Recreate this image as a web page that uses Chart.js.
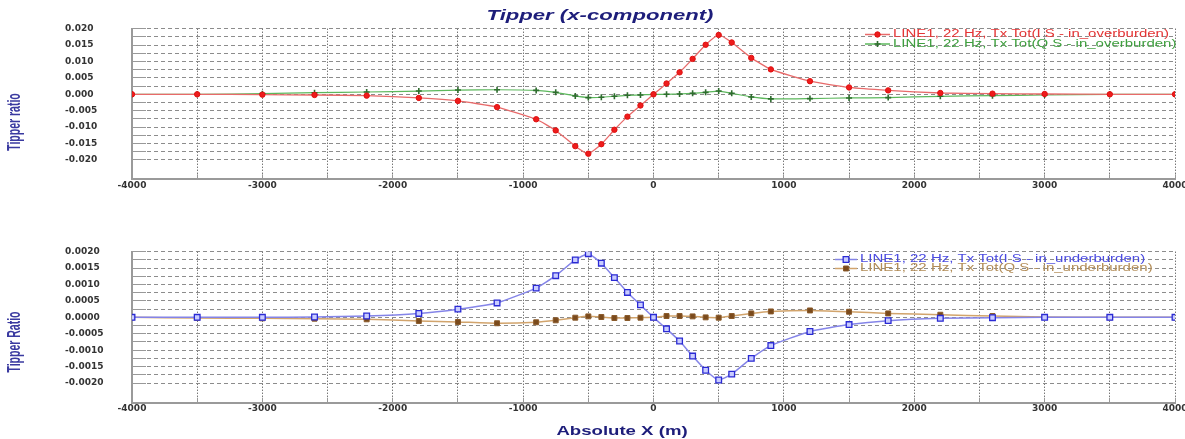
<!DOCTYPE html>
<html>
<head>
<meta charset="utf-8">
<script src="https://cdn.jsdelivr.net/npm/chart.js@4.4.1/dist/chart.umd.min.js"></script>
<style>
  html, body { margin: 0; padding: 0; background: #fff; }
  #wrap { position: relative; width: 1185px; height: 439px; }
  canvas { position: absolute; left: 0; }
</style>
</head>
<body>
<div id="wrap">
  <canvas id="topChart" width="1185" height="220" style="top:0"></canvas>
  <canvas id="bottomChart" width="1185" height="219" style="top:220px"></canvas>
</div>
<script>
// station positions (m)
const xPos = [-4000, -3500, -3000, -2600, -2200, -1800, -1500, -1200, -900, -750, -600, -500, -400, -300, -200, -100,
  0, 100, 200, 300, 400, 500, 600, 750, 900, 1200, 1500, 1800, 2200, 2600, 3000, 3500, 4000];

// overburden, in-phase / quadrature
const overIS = [0, 0, -0.0001, -0.0002, -0.0004, -0.0011, -0.0020, -0.0039, -0.0076, -0.0110, -0.0158, -0.0181, -0.0152, -0.0108, -0.0068, -0.0034,
  0, 0.0033, 0.0067, 0.0108, 0.0151, 0.0181, 0.0158, 0.0111, 0.0076, 0.0040, 0.0021, 0.0012, 0.0004, 0.0002, 0.0001, 0, 0];
const overQS = [0, 0, 0.0002, 0.0005, 0.0007, 0.0010, 0.0013, 0.0014, 0.0012, 0.0006, -0.0005, -0.0010, -0.0009, -0.0006, -0.0003, -0.0002,
  0, 0, 0.0001, 0.0003, 0.0006, 0.0010, 0.0003, -0.0008, -0.0014, -0.0013, -0.0011, -0.0010, -0.0006, -0.0004, -0.0002, 0, 0];

// underburden, in-phase / quadrature
const underIS = [0, 0, 0, 0.00001, 0.00004, 0.00012, 0.00025, 0.00044, 0.00089, 0.00127, 0.00175, 0.00194, 0.00165, 0.00121, 0.00076, 0.00038,
  0, -0.00035, -0.00072, -0.00118, -0.00161, -0.00191, -0.00173, -0.00125, -0.00086, -0.00043, -0.00022, -0.00010, -0.00003, -0.00001, 0, 0, 0];
const underQS = [0, -0.00002, -0.00003, -0.00004, -0.00006, -0.00011, -0.00014, -0.00018, -0.00015, -0.00009, -0.00001, 0.00003, 0.00001, -0.00002, -0.00002, -0.00001,
  0, 0.00004, 0.00004, 0.00003, 0, -0.00001, 0.00004, 0.00012, 0.00018, 0.00021, 0.00017, 0.00012, 0.00008, 0.00004, 0.00001, 0, 0];

const xTicks = [-4000, -3500, -3000, -2500, -2000, -1500, -1000, -500, 0, 500, 1000, 1500, 2000, 2500, 3000, 3500, 4000];
const yTicksTop = [-0.02, -0.0175, -0.015, -0.0125, -0.01, -0.0075, -0.005, -0.0025, 0,
  0.0025, 0.005, 0.0075, 0.01, 0.0125, 0.015, 0.0175, 0.02];
const yTicksBottom = [-0.002, -0.00175, -0.0015, -0.00125, -0.001, -0.00075, -0.0005, -0.00025, 0,
  0.00025, 0.0005, 0.00075, 0.001, 0.00125, 0.0015, 0.00175, 0.002];

const labelsTop = ['LINE1, 22 Hz, Tx Tot(I S - in_overburden)', 'LINE1, 22 Hz, Tx Tot(Q S - in_overburden)'];
const labelsBottom = ['LINE1, 22 Hz, Tx Tot(I S - in_underburden)', 'LINE1, 22 Hz, Tx Tot(Q S - in_underburden)'];

const pts = (ys) => xPos.map((x, i) => ({ x: x, y: ys[i] }));
const tickFont = { family: "'DejaVu Sans', sans-serif", size: 9, weight: 'bold' };

// stretched text helper (the source picture is widened horizontally)
function stretchText(ctx, text, x, y, font, color, sx, align, rotated) {
  ctx.save();
  ctx.translate(x, y);
  if (rotated) { ctx.rotate(-Math.PI / 2); ctx.scale(1, sx); }
  else ctx.scale(sx, 1);
  ctx.font = font;
  ctx.fillStyle = color;
  ctx.textAlign = align || 'center';
  ctx.textBaseline = 'middle';
  ctx.fillText(text, 0, 0);
  ctx.restore();
}

const decor = {
  id: 'decor',
  afterDraw(chart, args, o) {
    const ctx = chart.ctx;
    if (o.title) stretchText(ctx, o.title.text, o.title.x, o.title.y, o.title.font, o.title.color, o.title.sx);
    if (o.xTitle) stretchText(ctx, o.xTitle.text, o.xTitle.x, o.xTitle.y, o.xTitle.font, o.xTitle.color, o.xTitle.sx);
    if (o.yTitle) stretchText(ctx, o.yTitle.text, o.yTitle.x, o.yTitle.y, o.yTitle.font, o.yTitle.color, o.yTitle.sx, 'center', true);
    const lg = o.legend;
    if (!lg) return;
    chart.data.datasets.forEach((ds, i) => {
      const y = lg.rows[i];
      ctx.save();
      ctx.strokeStyle = ds.borderColor;
      ctx.lineWidth = 1.5;
      ctx.beginPath();
      ctx.moveTo(lg.x0, y);
      ctx.lineTo(lg.x1, y);
      ctx.stroke();
      ctx.fillStyle = ds.pointBackgroundColor;
      ctx.strokeStyle = ds.pointBorderColor;
      ctx.lineWidth = ds.pointBorderWidth;
      Chart.helpers.drawPoint(ctx, { pointStyle: ds.pointStyle, radius: ds.pointRadius, borderWidth: ds.pointBorderWidth, rotation: 0 }, (lg.x0 + lg.x1) / 2, y);
      ctx.restore();
      stretchText(ctx, ds.label, lg.textX, y, lg.font, ds.textColor, lg.sx, 'left');
    });
  }
};

function makeChart(id, datasets, yTicks, digits, yMin, yMax, padTop, xHeight, decorOpts) {
  return new Chart(document.getElementById(id), {
    type: 'line',
    data: { datasets: datasets },
    plugins: [decor],
    options: {
      responsive: false,
      animation: false,
      devicePixelRatio: 1,
      layout: { padding: { left: 65, right: 10, top: padTop, bottom: 0 } },
      plugins: { legend: { display: false }, title: { display: false }, tooltip: { enabled: false }, decor: decorOpts },
      elements: { line: { tension: 0.15 } },
      scales: {
        x: {
          type: 'linear', min: -4000, max: 4000,
          afterBuildTicks: (s) => { s.ticks = xTicks.map(v => ({ value: v })); },
          afterFit: (s) => { s.height = xHeight; s.paddingLeft = 0; s.paddingRight = 0; },
          ticks: {
            autoSkip: false, maxRotation: 0, padding: 6, color: '#333', font: tickFont,
            callback: (v, i) => (i % 2 === 0 ? String(v) : '')
          },
          grid: { color: '#3a3a3a', lineWidth: 1, drawTicks: true, tickLength: -5, tickColor: '#999', tickWidth: 1 },
          border: { display: true, color: '#9a9a9a', width: 2, dash: [1, 2] }
        },
        y: {
          type: 'linear', min: yMin, max: yMax,
          afterBuildTicks: (s) => { s.ticks = yTicks.map(v => ({ value: v })); },
          afterFit: (s) => { s.width = 67; s.paddingTop = 0; s.paddingBottom = 0; },
          ticks: {
            autoSkip: false, crossAlign: 'far', color: '#333', font: tickFont,
            callback: (v, i) => (i % 2 === 0 ? v.toFixed(digits) : '')
          },
          grid: { color: '#8c8c8c', lineWidth: 1, drawTicks: true, tickLength: -14, tickColor: '#999', tickWidth: 1 },
          border: { display: true, color: '#9a9a9a', width: 2, dash: [4, 3] }
        }
      }
    }
  });
}

makeChart('topChart', [
  {
    label: labelsTop[0], data: pts(overIS), textColor: '#e43535',
    borderColor: '#e86a6a', borderWidth: 1.3,
    pointStyle: 'circle', pointRadius: 2.7, pointBackgroundColor: '#ee1c1c', pointBorderColor: '#e01010', pointBorderWidth: 1
  },
  {
    label: labelsTop[1], data: pts(overQS), textColor: '#3f9f3f',
    borderColor: '#5cb85c', borderWidth: 1.2,
    pointStyle: 'cross', pointRadius: 3, pointBackgroundColor: '#2e7d32', pointBorderColor: '#2e6d2e', pointBorderWidth: 1.6
  }
], yTicksTop, 3, -0.0259, 0.02, 28.7, 40.7, {
  title: { text: 'Tipper (x-component)', x: 600, y: 16, font: 'italic bold 14px "Liberation Sans", Arial, sans-serif', color: '#1d1d7a', sx: 1.58 },
  yTitle: { text: 'Tipper ratio', x: 15.5, y: 122, font: 'bold 10.5px "Liberation Sans", Arial, sans-serif', color: '#3a3aa0', sx: 1.7 },
  legend: { x0: 865, x1: 890, textX: 893, rows: [34.5, 44], font: '10px "Liberation Sans", Arial, sans-serif', sx: 1.5 }
});

makeChart('bottomChart', [
  {
    label: labelsBottom[0], data: pts(underIS), textColor: '#4a4ae0',
    borderColor: '#8484e8', borderWidth: 1.5,
    pointStyle: 'rect', pointRadius: 4, pointBackgroundColor: '#c9ccff', pointBorderColor: '#2a2ad4', pointBorderWidth: 1.3
  },
  {
    label: labelsBottom[1], data: pts(underQS), textColor: '#b38d58',
    borderColor: '#d2a46c', borderWidth: 1.5,
    pointStyle: 'rect', pointRadius: 3.5, pointBackgroundColor: '#7a4a1c', pointBorderColor: '#8a5a2a', pointBorderWidth: 1
  }
], yTicksBottom, 4, -0.0026, 0.002, 31.7, 36.3, {
  xTitle: { text: 'Absolute X (m)', x: 622, y: 211.7, font: 'bold 12px "Liberation Sans", Arial, sans-serif', color: '#1d1d7a', sx: 1.55 },
  yTitle: { text: 'Tipper Ratio', x: 15.5, y: 122, font: 'bold 10.5px "Liberation Sans", Arial, sans-serif', color: '#3a3aa0', sx: 1.7 },
  legend: { x0: 835, x1: 857, textX: 860, rows: [39.5, 48.5], font: '10px "Liberation Sans", Arial, sans-serif', sx: 1.5 }
});
</script>
</body>
</html>
